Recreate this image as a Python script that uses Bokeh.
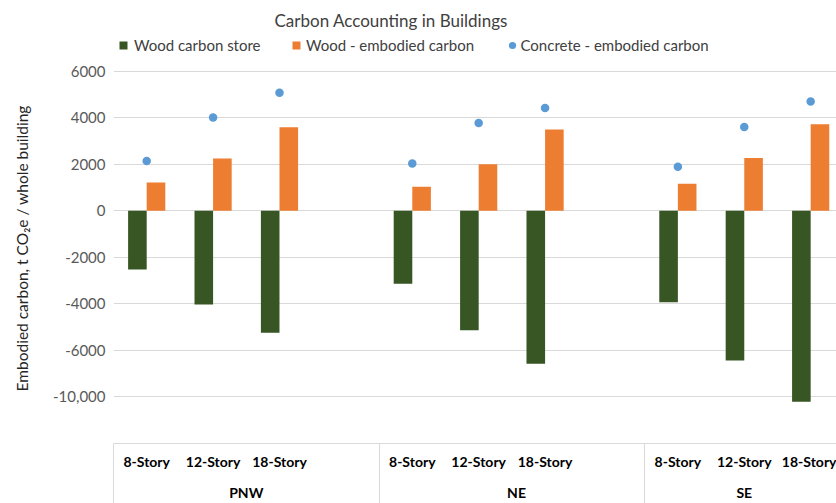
from bokeh.plotting import figure
from bokeh.models import (ColumnDataSource, Range1d, FixedTicker, LinearAxis,
                          Legend, LegendItem)
from bokeh.transform import dodge
from bokeh.core.properties import value
from bokeh.embed import file_html
from bokeh.resources import INLINE

# ---------------- data ----------------
regions = ["PNW", "NE", "SE"]
stories = ["8-Story", "12-Story", "18-Story"]
wood_store = [-2530, -4030, -5240, -3140, -5140, -6570, -3930, -6430, -8210]
wood_embodied = [1210, 2240, 3590, 1030, 2000, 3490, 1160, 2270, 3710]
concrete_embodied = [2140, 4000, 5070, 2030, 3770, 4410, 1890, 3600, 4690]
y_ticks = [6000, 4000, 2000, 0, -2000, -4000, -6000, -8000]
y_tick_labels = ["6000", "4000", "2000", "0", "-2000", "-4000", "-6000", "-10,000"]

# ---------------- layout helpers ----------------
SLOTS = 4  # 3 buildings + 1 blank slot per region
xs = [r * SLOTS + s + 0.5 for r in range(len(regions)) for s in range(len(stories))]
cat_labels = [st for _ in regions for st in stories]
group_centers = [2.0, 6.07, 9.5]
group_bounds = [0.0, 4.0, 8.0]

FONT = "Lato"
GREEN = "#375623"
ORANGE = "#ED7D31"
BLUE = "#5B9BD5"
GRID = "#D9D9D9"
SEP = 64  # separator length below the axis line

p = figure(width=836, height=503, output_backend="svg", toolbar_location=None,
           x_range=Range1d(0, 10.889), y_range=Range1d(-10000, 7613),
           x_axis_location=None,
           min_border_left=113, min_border_right=0, min_border_top=33,
           min_border_bottom=60)
p.outline_line_color = None
p.background_fill_color = "white"
p.border_fill_color = "white"
p.xgrid.visible = False
p.ygrid.ticker = FixedTicker(ticks=y_ticks)
p.ygrid.grid_line_color = GRID
p.ygrid.grid_line_width = 1

# title
p.title.text = "Carbon Accounting in Buildings"
p.title.align = "left"
p.title.offset = 161
p.title.standoff = 6
p.title.text_font = FONT
p.title.text_font_size = "17px"
p.title.text_font_style = "normal"
p.title.text_color = "#404040"

# y axis
ya = p.yaxis[0]
ya.ticker = FixedTicker(ticks=y_ticks)
ya.major_label_overrides = dict(zip(y_ticks, y_tick_labels))
ya.axis_line_color = None
ya.major_tick_line_color = None
ya.minor_tick_line_color = None
ya.major_label_standoff = 2
ya.major_label_text_font = FONT
ya.major_label_text_font_size = "15px"
ya.major_label_text_color = "#595959"
# trailing no-break spaces nudge the centred label towards the reference position
ya.axis_label = "Embodied carbon, t CO\u2082e / whole building" + "\u00a0" * 5
ya.axis_label_standoff = 19
ya.axis_label_text_font = FONT
ya.axis_label_text_font_size = "15.5px"
ya.axis_label_text_font_style = "normal"
ya.axis_label_text_color = "#262626"

# x axes: building labels with table-like separators, then region labels
ax1 = LinearAxis(ticker=FixedTicker(ticks=xs, minor_ticks=group_bounds),
                 major_label_overrides=dict(zip(xs, cat_labels)))
ax1.axis_line_color = GRID
ax1.major_tick_line_color = None
ax1.minor_tick_line_color = GRID
ax1.minor_tick_in = 0
ax1.minor_tick_out = SEP
ax1.major_tick_in = 0
ax1.major_tick_out = 0
ax1.major_label_standoff = 9 - SEP
ax1.major_label_text_font = FONT
ax1.major_label_text_font_size = "14px"
ax1.major_label_text_font_style = "bold"
ax1.major_label_text_color = "#000000"
p.add_layout(ax1, "below")

ax2 = LinearAxis(ticker=FixedTicker(ticks=group_centers, minor_ticks=[]),
                 major_label_overrides=dict(zip(group_centers, regions)))
ax2.axis_line_color = None
ax2.major_tick_line_color = None
ax2.minor_tick_line_color = None
ax2.major_tick_in = 0
ax2.major_tick_out = 0
ax2.major_label_standoff = 11
ax2.major_label_text_font = FONT
ax2.major_label_text_font_size = "14px"
ax2.major_label_text_font_style = "bold"
ax2.major_label_text_color = "#000000"
p.add_layout(ax2, "below")

# data glyphs
src = ColumnDataSource(dict(x=xs, store=wood_store, emb=wood_embodied,
                            conc=concrete_embodied))
r_store = p.vbar(x=dodge("x", -0.14), width=0.28, top=0, bottom="store",
                 source=src, fill_color=GREEN, line_color=None)
r_emb = p.vbar(x=dodge("x", 0.14), width=0.28, top="emb", bottom=0,
               source=src, fill_color=ORANGE, line_color=None)
r_conc = p.scatter(x="x", y="conc", size=8.5, source=src, fill_color=BLUE,
                   line_color=None)

# legend: one legend per entry so each sits exactly where the reference has it
legend_entries = [("Wood carbon store", r_store, 5, 10, 6),
                  ("Wood - embodied carbon", r_emb, 178, 10, 5),
                  ("Concrete - embodied carbon", r_conc, 389.5, 18, 0)]
for label, r, lx, gsize, stand in legend_entries:
    lg = Legend(items=[LegendItem(label=value(label), renderers=[r])],
                location=(lx, 389), orientation="horizontal",
                glyph_width=gsize, glyph_height=gsize, label_standoff=stand,
                padding=0, margin=0, border_line_color=None,
                background_fill_alpha=0,
                label_text_font=FONT, label_text_font_size="15px",
                label_text_color="#404040")
    p.add_layout(lg, "center")

open("out.html", "w").write(file_html(p, INLINE))
